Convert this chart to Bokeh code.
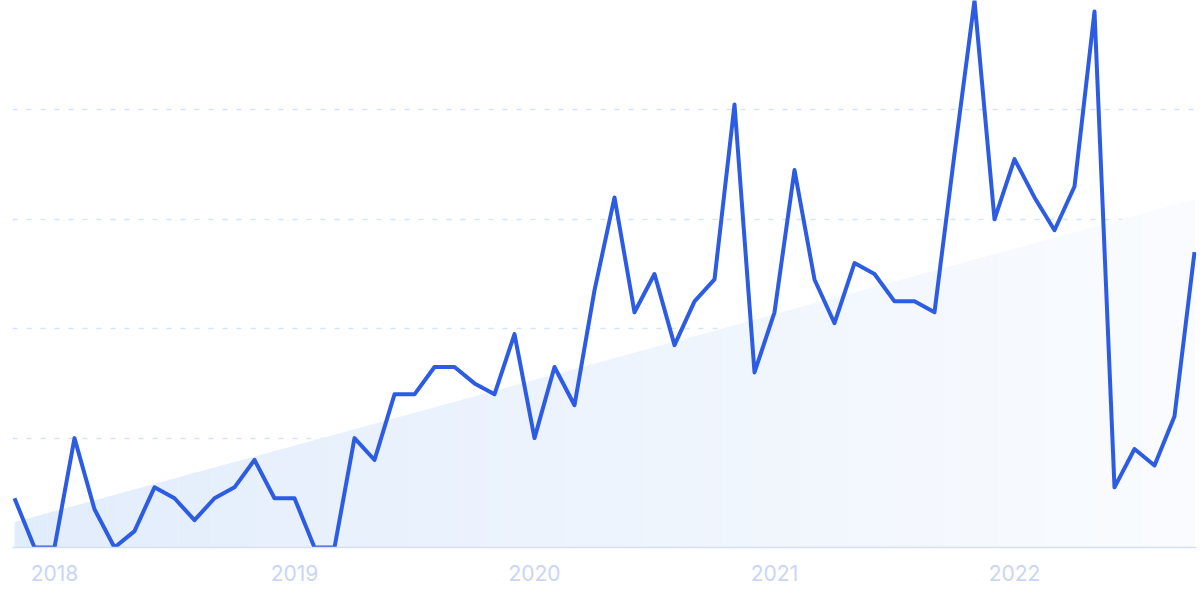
import numpy as np
from bokeh.plotting import figure
from bokeh.models import Range1d, FixedTicker, ColumnDataSource
from bokeh.embed import file_html
from bokeh.resources import INLINE

# Monthly values, Nov 2017 .. Oct 2022 (index 0 = Nov 2017)
values = [9, 0, 0, 20, 7, 0, 3, 11, 9, 5,
          9, 11, 16, 9, 9, 0, 0, 20, 16, 28,
          28, 33, 33, 30, 28, 39, 20, 33, 26, 47,
          64, 43, 50, 37, 45, 49, 81, 32, 43, 69,
          49, 41, 52, 50, 45, 45, 43, 72, 100, 60,
          71, 64, 58, 66, 98, 11, 18, 15, 24, 54]
months = list(range(len(values)))
year_ticks = [2, 14, 26, 38, 50]
year_labels = ["2018", "2019", "2020", "2021", "2022"]
grid_values = [20, 40, 60, 80, 100]

p = figure(width=1200, height=591, output_backend="svg", toolbar_location=None,
           x_range=Range1d(-0.1, 59.1), y_range=Range1d(0, 100),
           min_border_left=12, min_border_right=4, min_border_top=0, min_border_bottom=44)
p.outline_line_color = None
p.background_fill_color = "white"
p.border_fill_color = "white"

# trend area with horizontal gradient (approximated by slices)
slope, intercept = np.polyfit(months, values, 1)
n = len(values) - 1
nslices = 180
edges = np.linspace(0, n, nslices + 1)
c0 = np.array([226, 237, 252])
c1 = np.array([250, 252, 255])
xs, ys, cols = [], [], []
for k in range(nslices):
    a, b = edges[k], edges[k + 1]
    xs.append([a, b + 0.02, b + 0.02, a])
    ys.append([0, 0, intercept + slope * (b + 0.02), intercept + slope * a])
    t = (k + 0.5) / nslices
    c = (c0 + (c1 - c0) * t).astype(int)
    cols.append("#%02x%02x%02x" % tuple(c))
p.patches(xs="xs", ys="ys", fill_color="cols", line_color=None,
          source=ColumnDataSource(dict(xs=xs, ys=ys, cols=cols)))

# grid
p.xgrid.visible = False
p.ygrid.ticker = FixedTicker(ticks=grid_values)
p.ygrid.grid_line_color = "#d3e2fd"
p.ygrid.grid_line_dash = "5 9"
p.ygrid.grid_line_width = 1.3

# axes
p.yaxis.visible = False
ax = p.xaxis[0]
ax.ticker = FixedTicker(ticks=year_ticks)
ax.major_label_overrides = dict(zip(year_ticks, year_labels))
ax.major_tick_line_color = None
ax.minor_tick_line_color = None
ax.axis_line_color = "#d4e0fa"
ax.axis_line_width = 1.5
ax.major_label_text_color = "#c9d5f5"
ax.major_label_text_font = "Inter"
ax.major_label_text_font_size = "21px"
ax.major_label_standoff = 11

p.line(months, values, line_color="#2d5ce4", line_width=4, line_join="round")

open("out.html", "w").write(file_html(p, INLINE))
